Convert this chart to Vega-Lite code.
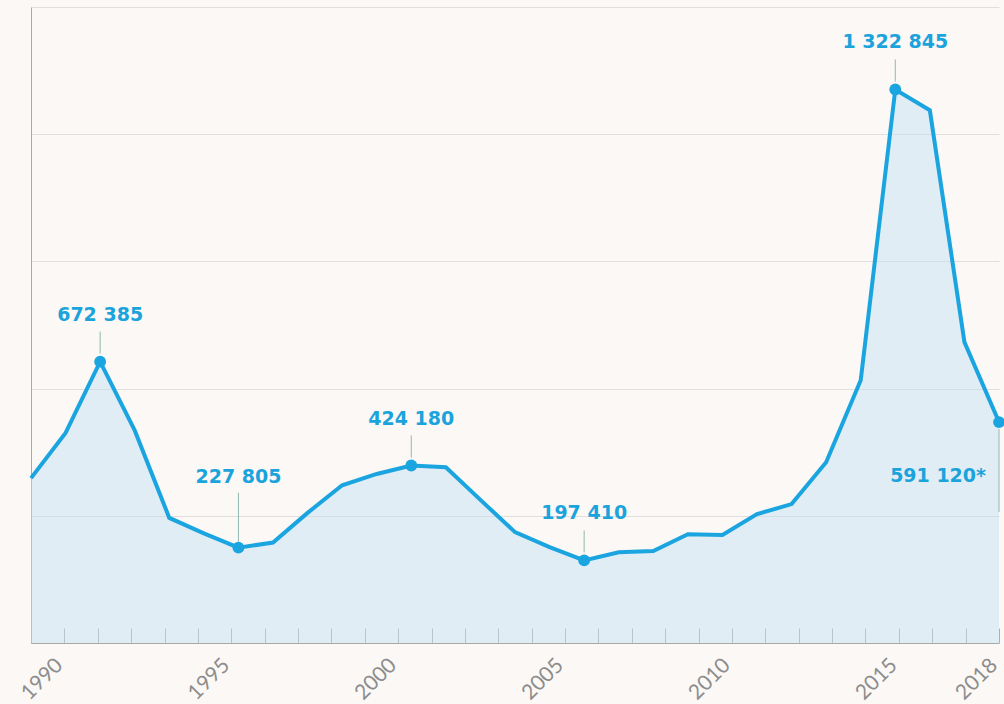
{
  "$schema": "https://vega.github.io/schema/vega-lite/v6.json",
  "width": 968,
  "height": 636,
  "autosize": {"type": "none"},
  "padding": {"left": 31, "top": 7, "right": 5, "bottom": 61},
  "background": "#fbf8f6",
  "config": {
    "view": {"stroke": null},
    "axis": {"gridColor": "#e2dedc", "domainColor": "#a8a8a8", "tickColor": "#b0b0b0"}
  },
  "data": {
    "values": [
      {"year": 1990, "value": 394000},
      {"year": 1991, "value": 502000},
      {"year": 1992, "value": 672385, "label": "672 385"},
      {"year": 1993, "value": 508000},
      {"year": 1994, "value": 299000},
      {"year": 1995, "value": 262000},
      {"year": 1996, "value": 227805, "label": "227 805"},
      {"year": 1997, "value": 240000},
      {"year": 1998, "value": 311000},
      {"year": 1999, "value": 377000},
      {"year": 2000, "value": 404000},
      {"year": 2001, "value": 424180, "label": "424 180"},
      {"year": 2002, "value": 420000},
      {"year": 2003, "value": 342000},
      {"year": 2004, "value": 265000},
      {"year": 2005, "value": 229000},
      {"year": 2006, "value": 197410, "label": "197 410"},
      {"year": 2007, "value": 217000},
      {"year": 2008, "value": 220000},
      {"year": 2009, "value": 260000},
      {"year": 2010, "value": 258000},
      {"year": 2011, "value": 308000},
      {"year": 2012, "value": 332000},
      {"year": 2013, "value": 432000},
      {"year": 2014, "value": 628000},
      {"year": 2015, "value": 1322845, "label": "1 322 845"},
      {"year": 2016, "value": 1273000},
      {"year": 2017, "value": 719000},
      {"year": 2018, "value": 528000, "label": "591 120*"}
    ]
  },
  "encoding": {
    "x": {
      "field": "year",
      "type": "quantitative",
      "scale": {"domain": [1990, 2018], "nice": false, "zero": false},
      "axis": {
        "title": null,
        "grid": false,
        "values": [1990, 1990.9655, 1991.931, 1992.8966, 1993.8621, 1994.8276, 1995.7931, 1996.7586, 1997.7241, 1998.6897, 1999.6552, 2000.6207, 2001.5862, 2002.5517, 2003.5172, 2004.4828, 2005.4483, 2006.4138, 2007.3793, 2008.3448, 2009.3103, 2010.2759, 2011.2414, 2012.2069, 2013.1724, 2014.1379, 2015.1034, 2016.069, 2017.0345, 2018],
        "labelExpr": "indexof([1,6,11,16,21,26,29], round((datum.value-1990)*29/28)) >= 0 ? '' + floor(datum.value) : ''",
        "tickSize": -15,
        "tickWidth": 1,
        "labelAngle": -45,
        "labelAlign": "right",
        "labelBaseline": "top",
        "labelPadding": 26,
        "labelOffset": -13,
        "labelFont": "Lato",
        "labelFontSize": 21,
        "labelColor": "#8c8c8c",
        "labelOverlap": false,
        "labelBound": false,
        "labelFlush": false
      }
    },
    "y": {
      "field": "value",
      "type": "quantitative",
      "scale": {"domain": [0, 1520000], "nice": false},
      "axis": {
        "title": null,
        "labels": false,
        "ticks": false,
        "values": [304000, 608000, 912000, 1216000, 1520000],
        "gridColor": "#e2dedc",
        "gridWidth": 1.2
      }
    }
  },
  "layer": [
    {"mark": {"type": "area", "color": "#c2e1f5", "opacity": 0.45}},
    {"mark": {"type": "line", "color": "#1ba5e0", "strokeWidth": 4, "strokeJoin": "miter"}},
    {
      "transform": [{"filter": "datum.label != null"}],
      "mark": {"type": "point", "filled": true, "size": 140, "color": "#1ba5e0", "opacity": 1}
    },
    {
      "transform": [{"filter": "datum.label != null && datum.year != 1996 && datum.year != 2018"}],
      "encoding": {"y2": {"field": "value"}},
      "mark": {"type": "rule", "color": "#8fb8b0", "strokeWidth": 1, "yOffset": -8, "y2Offset": -30}
    },
    {
      "transform": [{"filter": "datum.year == 1996"}],
      "encoding": {"y2": {"field": "value"}},
      "mark": {"type": "rule", "color": "#8fb8b0", "strokeWidth": 1, "yOffset": -6, "y2Offset": -55}
    },
    {
      "transform": [{"filter": "datum.year == 2018"}],
      "encoding": {"y2": {"field": "value"}},
      "mark": {"type": "rule", "color": "#8fb8b0", "strokeWidth": 1, "yOffset": 7, "y2Offset": 90}
    },
    {
      "transform": [{"filter": "datum.label != null && datum.year != 1996 && datum.year != 2018"}],
      "mark": {"type": "text", "font": "DejaVu Sans", "fontWeight": "bold", "fontSize": 19, "color": "#1ba3dc", "baseline": "alphabetic", "dy": -41},
      "encoding": {"text": {"field": "label"}}
    },
    {
      "transform": [{"filter": "datum.year == 1996"}],
      "mark": {"type": "text", "font": "DejaVu Sans", "fontWeight": "bold", "fontSize": 19, "color": "#1ba3dc", "baseline": "alphabetic", "dy": -65},
      "encoding": {"text": {"field": "label"}}
    },
    {
      "transform": [{"filter": "datum.year == 2018"}],
      "mark": {"type": "text", "font": "DejaVu Sans", "fontWeight": "bold", "fontSize": 19, "color": "#1ba3dc", "baseline": "alphabetic", "align": "right", "dx": -13, "dy": 60},
      "encoding": {"text": {"field": "label"}}
    }
  ]
}
